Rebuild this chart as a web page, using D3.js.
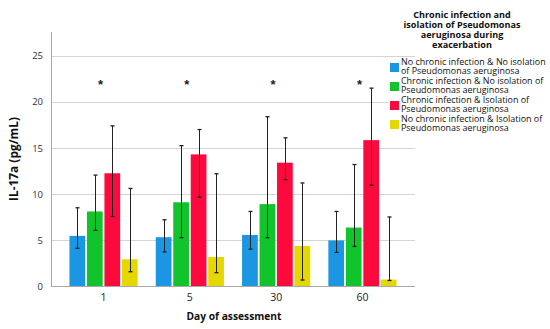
<!DOCTYPE html>
<html>
<head>
<meta charset="utf-8">
<script src="https://cdn.jsdelivr.net/npm/d3@7"></script>
<style>
  body { margin: 0; background: #fff; }
  svg { display: block; font-family: "Open Sans", "Liberation Sans", Arial, sans-serif; }
</style>
</head>
<body>
<svg width="550" height="329"></svg>
<script>
// data
const days = ["1", "5", "30", "60"];
const groups = [
  "No chronic infection & No isolation of Pseudomonas aeruginosa",
  "Chronic infection & No isolation of Pseudomonas aeruginosa",
  "Chronic infection & Isolation of Pseudomonas aeruginosa",
  "No chronic infection & Isolation of Pseudomonas aeruginosa"
];
const legendLines = [
  ["No chronic infection & No isolation", "of Pseudomonas aeruginosa"],
  ["Chronic infection & No isolation of", "Pseudomonas aeruginosa"],
  ["Chronic infection & Isolation of", "Pseudomonas aeruginosa"],
  ["No chronic infection & Isolation of", "Pseudomonas aeruginosa"]
];
const colors = ["#1b96e2", "#12c42c", "#fc0a3e", "#e5d700"];

// mean per group, one entry per day
const means = [
  [5.45, 5.3, 5.55, 4.95],
  [8.1, 9.1, 8.9, 6.35],
  [12.25, 14.3, 13.4, 15.85],
  [2.9, 3.15, 4.35, 0.7]
];
const upper = [
  [8.5, 7.2, 8.1, 8.1],
  [12.05, 15.25, 18.4, 13.2],
  [17.4, 17.0, 16.1, 21.5],
  [10.6, 12.2, 11.2, 7.5]
];
const lower = [
  [4.1, 3.7, 4.0, 3.65],
  [6.05, 5.25, 5.25, 4.3],
  [7.55, 9.65, 11.55, 10.95],
  [1.55, 1.45, 0.65, 0.6]
];
const yTicks = [0, 5, 10, 15, 20, 25];
const sigDays = ["1", "5", "30", "60"];
const legendTitle = ["Chronic infection and", "isolation of Pseudomonas", "aeruginosa during", "exacerbation"];

const svg = d3.select("svg");
const plotL = 51, plotR = 415, plotT = 32, plotB = 286;

// shrink/grow a text's font so its width matches the picture
function fitWidth(sel, width) {
  const fs = parseFloat(sel.attr("font-size"));
  const w = sel.node().getComputedTextLength();
  const next = fs * width / w;
  sel.attr("font-size", next.toFixed(2));
  return next;
}

const x0 = d3.scaleBand().domain(days).range([plotL, plotR])
  .paddingInner(0.21).paddingOuter(0.214);
const x1 = d3.scaleBand().domain(d3.range(groups.length))
  .range([0, x0.bandwidth()]).paddingInner(0.1);
const y = d3.scaleLinear().domain([0, 27.6]).range([plotB, plotT]);

// gridlines
svg.append("g")
  .selectAll("line")
  .data(yTicks.filter(d => d > 0))
  .join("line")
  .attr("x1", plotL).attr("x2", plotR)
  .attr("y1", d => Math.round(y(d)) + 0.5).attr("y2", d => Math.round(y(d)) + 0.5)
  .attr("stroke", "#d4d4d4").attr("stroke-width", 1);

// y axis
const yAxis = svg.append("g")
  .attr("transform", `translate(${plotL},0)`)
  .call(d3.axisLeft(y).tickValues(yTicks).tickSize(0).tickPadding(8));
yAxis.select(".domain").attr("stroke", "#a8a8a8").attr("d", `M0.5,${plotT}V${plotB}`);
yAxis.selectAll("text").attr("fill", "#333").attr("font-size", 9.5)
  .attr("font-family", "Open Sans");

// x axis
const xAxis = svg.append("g")
  .attr("transform", `translate(0,${plotB})`)
  .call(d3.axisBottom(x0).tickSize(0).tickPadding(8));
xAxis.select(".domain").attr("stroke", "#a8a8a8").attr("d", `M${plotL},0.5H${plotR}`);
xAxis.selectAll("text").attr("fill", "#222").attr("font-size", 10.5)
  .attr("font-family", "Open Sans");

// bars
const rows = [];
days.forEach((d, i) => {
  groups.forEach((g, j) => {
    rows.push({ day: d, g: j, mean: means[j][i], lo: lower[j][i], hi: upper[j][i] });
  });
});

svg.append("g")
  .selectAll("rect")
  .data(rows)
  .join("rect")
  .attr("x", d => x0(d.day) + x1(d.g))
  .attr("y", d => y(d.mean))
  .attr("width", x1.bandwidth())
  .attr("height", d => y(0) - y(d.mean))
  .attr("fill", d => colors[d.g]);

// error bars
const err = svg.append("g").attr("stroke", "#222").attr("stroke-width", 1);
rows.forEach(d => {
  const cx = Math.round(x0(d.day) + x1(d.g) + x1.bandwidth() / 2) + 0.5;
  err.append("line").attr("x1", cx).attr("x2", cx)
    .attr("y1", y(d.lo)).attr("y2", y(d.hi));
  [d.lo, d.hi].forEach(v => {
    err.append("line").attr("x1", cx - 2).attr("x2", cx + 2)
      .attr("y1", y(v)).attr("y2", y(v)).attr("stroke-width", 1.3);
  });
});

// significance markers
svg.append("g")
  .selectAll("text")
  .data(sigDays)
  .join("text")
  .attr("x", d => x0(d) + x0.bandwidth() / 2 - 3)
  .attr("y", y(21.4))
  .attr("text-anchor", "middle")
  .attr("font-family", "Liberation Sans")
  .attr("font-size", 13)
  .attr("font-weight", "bold")
  .attr("fill", "#222")
  .text("*");

// axis titles
const yTitle = svg.append("text")
  .attr("transform", `translate(17.5,159) rotate(-90)`)
  .attr("text-anchor", "middle")
  .attr("font-size", 11)
  .attr("font-weight", "bold")
  .attr("fill", "#111")
  .text("IL-17a (pg/mL)");
fitWidth(yTitle, 84);

const xTitle = svg.append("text")
  .attr("x", 234).attr("y", 320)
  .attr("text-anchor", "middle")
  .attr("font-size", 11)
  .attr("font-weight", "bold")
  .attr("fill", "#111")
  .text("Day of assessment");
fitWidth(xTitle, 95);

// legend
const legend = svg.append("g");
legend.append("rect")
  .attr("x", 388).attr("y", 59).attr("width", 162).attr("height", 80)
  .attr("fill", "#fff");

const titleText = legend.append("g")
  .selectAll("text")
  .data(legendTitle)
  .join("text")
  .attr("x", 462)
  .attr("y", (d, i) => 18 + i * 10)
  .attr("text-anchor", "middle")
  .attr("font-size", 10)
  .attr("font-weight", "bold")
  .attr("fill", "#111")
  .text(d => d);
const titleSize = fitWidth(titleText.filter((d, i) => i === 1), 117);
titleText.attr("font-size", titleSize.toFixed(2));

const items = legend.selectAll("g.item")
  .data(groups)
  .join("g")
  .attr("class", "item")
  .attr("transform", (d, i) => `translate(390,${63 + i * 19})`);

items.append("rect")
  .attr("width", 9).attr("height", 9)
  .attr("fill", (d, i) => colors[i]);

const itemText = items.selectAll("text")
  .data((d, i) => legendLines[i])
  .join("text")
  .attr("x", 11)
  .attr("y", (t, k) => 2 + k * 8.5)
  .attr("font-size", 9)
  .attr("fill", "#111")
  .text(t => t);
const itemSize = fitWidth(itemText.filter(t => t === legendLines[0][0]), 145);
itemText.attr("font-size", itemSize.toFixed(2));
</script>
</body>
</html>
